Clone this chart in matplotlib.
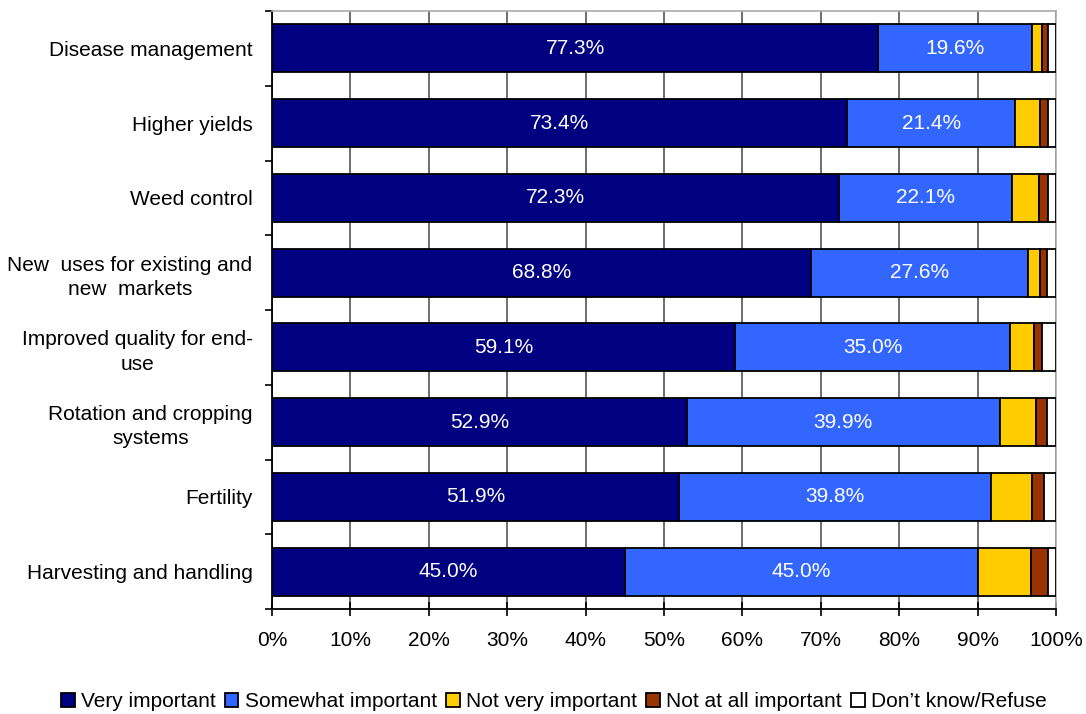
import numpy as np
import matplotlib.pyplot as plt

plt.rcParams['font.family'] = ['Liberation Sans', 'DejaVu Sans']

categories = ['Disease management', 'Higher yields', 'Weed control',
              'New  uses for existing and\nnew  markets',
              'Improved quality for end-\nuse',
              'Rotation and cropping\nsystems', 'Fertility',
              'Harvesting and handling']
very = [77.3, 73.4, 72.3, 68.8, 59.1, 52.9, 51.9, 45.0]
somewhat = [19.6, 21.4, 22.1, 27.6, 35.0, 39.9, 39.8, 45.0]
not_very = [1.3, 3.2, 3.4, 1.6, 3.1, 4.7, 5.3, 6.8]
not_at_all = [0.8, 1.0, 1.2, 0.8, 1.0, 1.4, 1.5, 2.2]
dont_know = [1.0, 1.0, 1.0, 1.2, 1.8, 1.1, 1.5, 1.0]

series = [very, somewhat, not_very, not_at_all, dont_know]
names = ['Very important', 'Somewhat important', 'Not very important',
         'Not at all important', 'Don\u2019t know/Refuse']
colors = ['#000080', '#3366FF', '#FFCC00', '#993300', '#FFFFFF']

fs = 15

fig = plt.figure(figsize=(10.86, 7.14), dpi=100)
ax = fig.add_axes([272 / 1086, 1 - 609 / 714, 784 / 1086, 598 / 714])

y = np.arange(len(categories))
left = np.zeros(len(categories))
bars = []
for vals, name, col in zip(series, names, colors):
    vals = np.array(vals)
    b = ax.barh(y, vals, left=left, height=0.64, color=col,
                edgecolor='black', linewidth=1.3, label=name, zorder=3)
    bars.append(b)
    left += vals

# value labels on the two main segments
for b, vals in zip(bars[:2], series[:2]):
    ax.bar_label(b, labels=[f'{v:.1f}%' for v in vals], label_type='center',
                 color='white', fontsize=fs)

ax.set_xlim(0, 100)
ax.set_ylim(len(categories) - 0.5, -0.5)
ax.set_xticks(np.arange(0, 101, 10))
ax.set_xticklabels([f'{t}%' for t in range(0, 101, 10)], fontsize=fs)
ax.set_yticks(y)
ax.set_yticklabels(categories, fontsize=fs, ha='right',
                   multialignment='center', linespacing=1.35)
ax.tick_params(axis='y', length=0, pad=14)
ax.set_yticks(np.arange(-0.5, len(categories), 1), minor=True)
ax.tick_params(axis='y', which='minor', length=5, width=1.2, direction='out')
ax.tick_params(axis='x', length=10, width=1.2, direction='inout', pad=11)

ax.xaxis.grid(True, color='#555555', linewidth=1.2, zorder=0)
ax.set_axisbelow(True)
for s in ['top', 'right']:
    ax.spines[s].set_color('#aaaaaa')
    ax.spines[s].set_linewidth(1.2)
for s in ['left', 'bottom']:
    ax.spines[s].set_color('black')
    ax.spines[s].set_linewidth(1.3)

fig.legend(loc='lower center', bbox_to_anchor=(0.51, -0.022), ncol=5,
           frameon=False, fontsize=fs, handlelength=0.65, handleheight=0.65,
           handletextpad=0.3, columnspacing=0.45)

fig.savefig('out.png', dpi=100)
